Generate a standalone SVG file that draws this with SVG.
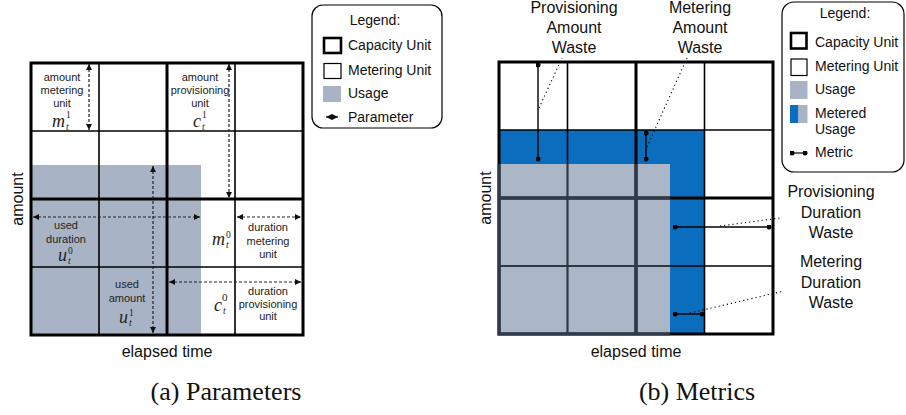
<svg xmlns="http://www.w3.org/2000/svg" width="906" height="415" viewBox="0 0 906 415">
<style>
.bg{fill:#ffffff}
.thin{stroke:#000;stroke-width:1.6;fill:none}
.thick{stroke:#000;stroke-width:3;fill:none}
.slate .thin,.slate .thick{stroke:#2f3b4c}
.usage{fill:#a8b4c5}
.blue{fill:#0b6dbd}
.lbl{font-family:"Liberation Sans",Arial,sans-serif;fill:#111}
.s11{font-size:11px;fill:#222}
.s14{font-size:14px}
.s16{font-size:16px}
.mi{font-family:"Liberation Serif","Times New Roman",serif;font-style:italic;font-size:18px;fill:#222}
.ms{font-family:"Liberation Serif","Times New Roman",serif;font-style:italic;font-size:9.5px;fill:#222}
.mr{font-family:"Liberation Serif","Times New Roman",serif;font-size:9.5px;fill:#222}
.cap{font-family:"Liberation Serif","Times New Roman",serif;font-size:26px;fill:#111}
.dash{stroke:#222;stroke-width:1.2;stroke-dasharray:3 2;fill:none;marker-start:url(#ah);marker-end:url(#ah)}
.metric{stroke:#000;stroke-width:1.4;fill:none;marker-start:url(#dot);marker-end:url(#dot)}
.lead{stroke:#000;stroke-width:1.1;stroke-dasharray:1.2 3;fill:none}
.box{fill:#fff;stroke:#000;stroke-width:1.2}
</style>
<defs>
<marker id="ah" viewBox="0 0 10 10" refX="10" refY="5" markerWidth="6" markerHeight="6" markerUnits="userSpaceOnUse" orient="auto-start-reverse"><path d="M0,0 L10,5 L0,10 z" fill="#111"/></marker>
<marker id="dot" viewBox="0 0 6 6" refX="3" refY="3" markerWidth="5" markerHeight="5" markerUnits="userSpaceOnUse"><circle cx="3" cy="3" r="3" fill="#000"/></marker>
<clipPath id="grayclip"><rect x="495" y="164" width="175" height="173"/></clipPath>
</defs>
<rect class="bg" x="0" y="0" width="906" height="415"/>

<!-- Left panel: parameters -->
<g id="left-grid">
<rect class="usage" x="31" y="165" width="170" height="170"/>
<line class="thin" x1="99" y1="63" x2="99" y2="335"/>
<line class="thin" x1="235" y1="63" x2="235" y2="335"/>
<line class="thin" x1="31" y1="131" x2="303" y2="131"/>
<line class="thin" x1="31" y1="267" x2="303" y2="267"/>
<line class="thick" x1="167" y1="63" x2="167" y2="335"/>
<line class="thick" x1="31" y1="199" x2="303" y2="199"/>
<rect class="thick" x="31" y="63" width="272" height="272"/>
</g>

<g id="connectors-left">
<line class="dash" x1="89" y1="64" x2="89" y2="130"/>
<line class="dash" x1="229" y1="64" x2="229" y2="198"/>
<line class="dash" x1="153" y1="166" x2="153" y2="333"/>
<line class="dash" x1="33" y1="217" x2="200" y2="217"/>
<line class="dash" x1="237" y1="217" x2="301" y2="217"/>
<line class="dash" x1="169" y1="282" x2="301" y2="282"/>
</g>

<g id="param-m1">
<text class="lbl s11" text-anchor="middle"><tspan x="62" y="81">amount</tspan><tspan x="62" y="94">metering</tspan><tspan x="62" y="107">unit</tspan></text>
<text class="mi" x="52" y="127">m</text><text class="ms" x="66" y="130">t</text><text class="mr" x="66" y="118">1</text>
</g>
<g id="param-c1">
<text class="lbl s11" text-anchor="middle"><tspan x="200" y="81">amount</tspan><tspan x="200" y="94">provisioning</tspan><tspan x="200" y="107">unit</tspan></text>
<text class="mi" x="193" y="127">c</text><text class="ms" x="202" y="130">t</text><text class="mr" x="202" y="118">1</text>
</g>
<g id="param-u0">
<text class="lbl s11" text-anchor="middle"><tspan x="66" y="229">used</tspan><tspan x="66" y="243">duration</tspan></text>
<text class="mi" x="58" y="261">u</text><text class="ms" x="68" y="264">t</text><text class="mr" x="68" y="254">0</text>
</g>
<g id="param-u1">
<text class="lbl s11" text-anchor="middle"><tspan x="127" y="288">used</tspan><tspan x="127" y="302">amount</tspan></text>
<text class="mi" x="119" y="323">u</text><text class="ms" x="129" y="326">t</text><text class="mr" x="129" y="316">1</text>
</g>
<g id="param-m0">
<text class="mi" x="212" y="245">m</text><text class="ms" x="226" y="248">t</text><text class="mr" x="226" y="238">0</text>
<text class="lbl s11" text-anchor="middle"><tspan x="268" y="231">duration</tspan><tspan x="268" y="245">metering</tspan><tspan x="268" y="258">unit</tspan></text>
</g>
<g id="param-c0">
<text class="mi" x="214" y="311">c</text><text class="ms" x="223" y="314">t</text><text class="mr" x="222" y="301" style="font-size:11px">0</text>
<text class="lbl s11" text-anchor="middle"><tspan x="268" y="295">duration</tspan><tspan x="268" y="308">provisioning</tspan><tspan x="268" y="320">unit</tspan></text>
</g>

<g id="left-axes">
<text class="lbl s16" text-anchor="middle" transform="translate(23,199) rotate(-90)">amount</text>
<text class="lbl s16" text-anchor="middle" x="167" y="357">elapsed time</text>
</g>

<g id="legend-left">
<rect class="box" x="312" y="5" width="130" height="123" rx="11"/>
<text class="lbl s14" x="375" y="25" text-anchor="middle">Legend:</text>
<rect x="324" y="38" width="17" height="15" fill="#fff" stroke="#000" stroke-width="2.6"/>
<text class="lbl s14" x="348" y="50">Capacity Unit</text>
<rect x="324" y="63.5" width="17" height="15" fill="#fff" stroke="#000" stroke-width="1.2"/>
<text class="lbl s14" x="348" y="75">Metering Unit</text>
<rect class="usage" x="323" y="86" width="18" height="16"/>
<text class="lbl s14" x="348" y="98">Usage</text>
<line x1="326" y1="117" x2="338" y2="117" stroke="#111" stroke-width="1.2" marker-start="url(#ah)" marker-end="url(#ah)"/>
<text class="lbl s14" x="348" y="122">Parameter</text>
</g>

<!-- Right panel: metrics -->
<g id="right-grid">
<rect class="blue" x="499" y="130" width="205.5" height="204"/>
<rect class="usage" x="499" y="164" width="171" height="170" style="fill:#abb7c7"/>
<g id="grid-lines-r">
<line class="thin" x1="567.5" y1="62" x2="567.5" y2="334"/>
<line class="thin" x1="704.5" y1="62" x2="704.5" y2="334"/>
<line class="thin" x1="499" y1="130" x2="773" y2="130"/>
<line class="thin" x1="499" y1="266" x2="773" y2="266"/>
<line class="thick" x1="636" y1="62" x2="636" y2="334"/>
<line class="thick" x1="499" y1="198" x2="773" y2="198"/>
<rect class="thick" x="499" y="62" width="274" height="272"/>
</g>
<g class="slate" clip-path="url(#grayclip)">
<line class="thin" x1="567.5" y1="62" x2="567.5" y2="334"/>
<line class="thin" x1="499" y1="266" x2="773" y2="266"/>
<line class="thick" x1="636" y1="62" x2="636" y2="334"/>
<line class="thick" x1="499" y1="198" x2="773" y2="198"/>
<rect class="thick" x="499" y="62" width="274" height="272"/>
</g>
</g>

<g id="connectors-right">
<line class="lead" x1="539" y1="108" x2="562" y2="58"/>
<line class="lead" x1="647" y1="147" x2="687" y2="58"/>
<line class="lead" x1="720" y1="226" x2="780" y2="218"/>
<line class="lead" x1="690" y1="313" x2="784" y2="291"/>
<line class="metric" x1="538" y1="65" x2="538" y2="159"/>
<line class="metric" x1="646" y1="133" x2="646" y2="159"/>
<line class="metric" x1="675" y1="227" x2="769" y2="227"/>
<line class="metric" x1="675" y1="314" x2="702" y2="314"/>
</g>

<g id="metric-paw">
<text class="lbl s16" text-anchor="middle"><tspan x="574" y="13">Provisioning</tspan><tspan x="574" y="33">Amount</tspan><tspan x="574" y="53">Waste</tspan></text>
</g>
<g id="metric-maw">
<text class="lbl s16" text-anchor="middle"><tspan x="700" y="13">Metering</tspan><tspan x="700" y="33">Amount</tspan><tspan x="700" y="53">Waste</tspan></text>
</g>
<g id="metric-pdw">
<text class="lbl s16" text-anchor="middle"><tspan x="831" y="197">Provisioning</tspan><tspan x="831" y="217.5">Duration</tspan><tspan x="831" y="238">Waste</tspan></text>
</g>
<g id="metric-mdw">
<text class="lbl s16" text-anchor="middle"><tspan x="831" y="267">Metering</tspan><tspan x="831" y="287.5">Duration</tspan><tspan x="831" y="308">Waste</tspan></text>
</g>

<g id="right-axes">
<text class="lbl s16" text-anchor="middle" transform="translate(491,198) rotate(-90)">amount</text>
<text class="lbl s16" text-anchor="middle" x="636" y="357">elapsed time</text>
</g>

<g id="legend-right">
<rect class="box" x="782" y="2" width="122" height="170" rx="12"/>
<text class="lbl s14" x="845" y="18" text-anchor="middle">Legend:</text>
<rect x="791" y="33" width="15.5" height="15.5" fill="#fff" stroke="#000" stroke-width="2.6"/>
<text class="lbl s14" x="815" y="47">Capacity Unit</text>
<rect x="791" y="59" width="16" height="16.5" fill="#fff" stroke="#000" stroke-width="1.2"/>
<text class="lbl s14" x="815" y="71">Metering Unit</text>
<rect class="usage" x="790" y="81" width="17.5" height="18"/>
<text class="lbl s14" x="815" y="94">Usage</text>
<rect class="blue" x="790" y="105" width="8.5" height="18"/>
<rect class="usage" x="798.5" y="105" width="9" height="18"/>
<text class="lbl s14"><tspan x="815" y="117.5">Metered</tspan><tspan x="815" y="134">Usage</tspan></text>
<line x1="792" y1="153" x2="805" y2="153" stroke="#000" stroke-width="1.2" marker-start="url(#dot)" marker-end="url(#dot)"/>
<text class="lbl s14" x="815" y="157">Metric</text>
</g>

<g id="captions">
<text class="cap" x="226" y="400" text-anchor="middle">(a) Parameters</text>
<text class="cap" x="697" y="400" text-anchor="middle">(b) Metrics</text>
</g>
</svg>
